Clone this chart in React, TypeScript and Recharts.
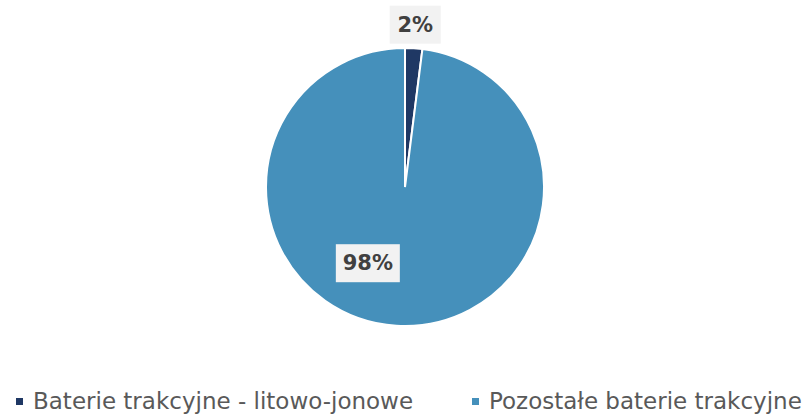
import { PieChart, Pie, Cell, Legend } from "recharts";

const categories = ["Baterie trakcyjne - litowo-jonowe", "Pozostałe baterie trakcyjne"];
const shares = [2, 98];
const colors = ["#1f3864", "#4590bb"];

// label placement: radius factor of outerRadius + angle override (Excel "best fit")
const labelRadius = [1.17, 0.61];
const labelAngle = [86.4, -116];

const data = categories.map((name, i) => ({ name, value: shares[i] }));

const renderLabel = (props: any) => {
  const { cx, cy, outerRadius, index, value } = props;
  const RAD = Math.PI / 180;
  const r = outerRadius * labelRadius[index];
  const a = labelAngle[index];
  const x = cx + r * Math.cos(-a * RAD);
  const y = cy + r * Math.sin(-a * RAD);
  const text = `${value}%`;
  const w = text.length * 13 + 25;
  return (
    <g>
      <rect x={x - w / 2} y={y - 19} width={w} height={38} fill="#f2f2f2" />
      <text
        x={x}
        y={y}
        textAnchor="middle"
        dominantBaseline="central"
        fill="#404040"
        fontSize={21}
        fontWeight="bold"
        fontFamily="DejaVu Sans, sans-serif"
      >
        {text}
      </text>
    </g>
  );
};

const renderLegend = () => (
  <div style={{ position: "relative", height: 30, fontFamily: "DejaVu Sans, sans-serif", fontSize: 23, color: "#595959" }}>
    {categories.map((c, i) => (
      <div
        key={c}
        style={{ position: "absolute", left: i === 0 ? 16 : 472, top: 0, display: "flex", alignItems: "center", whiteSpace: "nowrap" }}
      >
        <span style={{ display: "inline-block", width: 7, height: 7, background: colors[i], marginRight: 10 }} />
        <span>{c}</span>
      </div>
    ))}
  </div>
);

export default function App() {
  return (
    <div style={{ position: "absolute", left: 0, top: 0, width: 810, height: 417, background: "#fff" }}>
      <PieChart width={810} height={417} margin={{ top: 0, right: 0, bottom: 0, left: 0 }}>
        <Pie
          data={data}
          dataKey="value"
          cx={405}
          cy={187}
          outerRadius={139}
          startAngle={90}
          endAngle={-270}
          stroke="#ffffff"
          strokeWidth={2}
          label={renderLabel}
          labelLine={false}
          isAnimationActive={false}
        >
          {data.map((d, i) => (
            <Cell key={d.name} fill={colors[i]} />
          ))}
        </Pie>
        <Legend
          content={renderLegend}
          wrapperStyle={{ position: "absolute", left: 0, top: 388, width: 810 }}
        />
      </PieChart>
    </div>
  );
}
